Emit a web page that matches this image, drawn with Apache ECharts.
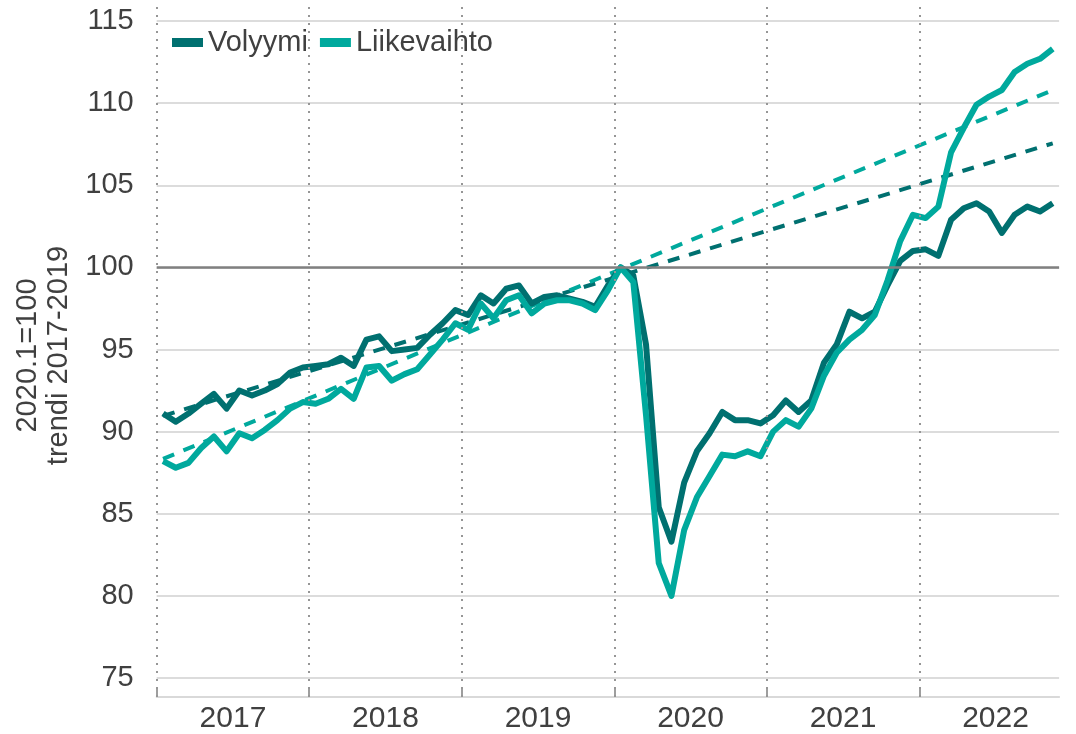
<!DOCTYPE html>
<html>
<head>
<meta charset="utf-8">
<script src="https://cdn.jsdelivr.net/npm/echarts@6/dist/echarts.min.js"></script>
<style>
html,body{margin:0;padding:0;background:#fff;}
#chart{width:1076px;height:734px;}
</style>
</head>
<body>
<div id="chart"></div>
<script>
// Years shown on the x axis (monthly data, Jan 2017 – Nov 2022)
var years = ['2017', '2018', '2019', '2020', '2021', '2022'];
var monthCount = 71;
var yearBoundaries = [0, 12, 24, 36, 48, 60];   // month index where each year starts
var yearLabelPos = [6, 18, 30, 42, 54, 66];      // mid-year positions for labels
var yTicks = [75, 80, 85, 90, 95, 100, 105, 110, 115];

// Volyymi, 2020.1 = 100
var volyymi = [
  91.1, 90.6, 91.1, 91.7, 92.3, 91.4, 92.5, 92.2, 92.5, 92.9, 93.6, 93.9,
  94.0, 94.1, 94.5, 94.0, 95.6, 95.8, 94.9, 95.0, 95.1, 95.9, 96.6, 97.4,
  97.1, 98.3, 97.8, 98.7, 98.9, 97.8, 98.2, 98.3, 98.1, 97.9, 97.6, 98.9,
  100.0, 99.5, 95.3, 85.4, 83.3, 86.9, 88.8, 89.9, 91.2, 90.7, 90.7, 90.5,
  91.0, 91.9, 91.2, 91.9, 94.2, 95.3, 97.3, 96.9, 97.3, 98.9, 100.4, 101.0,
  101.1, 100.7, 102.9, 103.6, 103.9, 103.4, 102.1, 103.2, 103.7, 103.4, 103.9
];
// Liikevaihto, 2020.1 = 100
var liikevaihto = [
  88.2, 87.8, 88.1, 89.0, 89.7, 88.8, 89.9, 89.6, 90.1, 90.7, 91.4, 91.8,
  91.7, 92.0, 92.6, 92.0, 93.9, 94.0, 93.1, 93.5, 93.8, 94.7, 95.6, 96.6,
  96.2, 97.8, 96.9, 98.0, 98.3, 97.2, 97.8, 98.0, 98.0, 97.8, 97.4, 98.6,
  100.0, 99.1, 91.0, 82.0, 80.0, 84.0, 86.0, 87.3, 88.6, 88.5, 88.8, 88.5,
  90.0, 90.7, 90.3, 91.4, 93.4, 94.8, 95.6, 96.2, 97.1, 99.2, 101.6, 103.2,
  103.0, 103.7, 107.0, 108.5, 109.9, 110.4, 110.8, 111.9, 112.4, 112.7, 113.3
];
// Trend 2017-2019, values at first and last month
var trendVolyymi = [90.96, 107.55];
var trendLiikevaihto = [88.34, 110.79];
var trendMonths = [0, 70];

var DARK = '#007070';
var TEAL = '#00a99d';
var TEXT = '#404040';
var FONT = '"Liberation Sans", Arial, sans-serif';

function toXY(arr) { return arr.map(function (v, i) { return [i + 0.5, v]; }); }
function trendXY(arr) { return arr.map(function (v, k) { return [trendMonths[k] + 0.5, v]; }); }

var chart = echarts.init(document.getElementById('chart'), null, { renderer: 'canvas' });

var option = {
  animation: false,
  backgroundColor: '#ffffff',
  textStyle: { fontFamily: FONT },
  legend: {
    data: ['Volyymi', 'Liikevaihto'],
    left: 167, top: 23,
    icon: 'rect', itemWidth: 31, itemHeight: 9, itemGap: 12,
    textStyle: { fontSize: 29, color: TEXT, fontFamily: FONT }
  },
  grid: [
    { left: 156.7, right: 16.9, top: 21, bottom: 56 },
    { left: 156.7, right: 16.9, top: 3, bottom: 37 }
  ],
  xAxis: [
    {
      type: 'value', gridIndex: 0, min: 0, max: monthCount,
      offset: 19,
      axisLine: { show: true, lineStyle: { color: '#d9d9d9', width: 2 } },
      axisTick: { show: true, inside: true, length: 10, customValues: yearBoundaries,
                  lineStyle: { color: '#7f7f7f', width: 1.5 } },
      axisLabel: { customValues: yearLabelPos, margin: 7, fontSize: 30, color: TEXT, fontFamily: FONT,
                   formatter: function (v) { var k = yearLabelPos.indexOf(Math.round(v)); return k >= 0 ? years[k] : ''; } },
      splitLine: { show: false }
    },
    { type: 'value', gridIndex: 1, min: 0, max: monthCount, show: false }
  ],
  yAxis: [
    {
      type: 'value', gridIndex: 0, min: yTicks[0], max: yTicks[yTicks.length - 1], interval: 5,
      axisLine: { show: false }, axisTick: { show: false },
      axisLabel: { fontSize: 29, color: TEXT, margin: 23, fontFamily: FONT },
      splitLine: { show: true, lineStyle: { color: '#d0d0d0', width: 1.5 } },
      name: '2020.1=100\ntrendi 2017-2019',
      nameLocation: 'middle', nameRotate: 90, nameGap: 74,
      nameTextStyle: { fontSize: 29, color: TEXT, lineHeight: 31, fontFamily: FONT, padding: [0, 12, 0, 0] }
    },
    { type: 'value', gridIndex: 1, min: 0, max: 1, show: false }
  ],
  series: [
    {
      name: 'year separators', type: 'line', xAxisIndex: 1, yAxisIndex: 1, data: [],
      silent: true, z: 1,
      markLine: {
        silent: true, symbol: 'none', label: { show: false },
        lineStyle: { color: '#969696', width: 2, type: [2, 6] },
        data: yearBoundaries.map(function (b) { return { xAxis: b }; })
      }
    },
    {
      name: 'Volyymi trendi', type: 'line', data: trendXY(trendVolyymi),
      symbol: 'none', z: 2,
      lineStyle: { color: DARK, width: 4, type: [12, 10] }
    },
    {
      name: 'Liikevaihto trendi', type: 'line', data: trendXY(trendLiikevaihto),
      symbol: 'none', z: 2,
      lineStyle: { color: TEAL, width: 4, type: [12, 10] }
    },
    {
      name: 'Volyymi', type: 'line', data: toXY(volyymi), symbol: 'none', z: 3,
      itemStyle: { color: DARK },
      lineStyle: { color: DARK, width: 6, join: 'round' },
      markLine: {
        silent: true, symbol: 'none', label: { show: false },
        lineStyle: { color: '#808080', width: 2.5, type: 'solid' },
        data: [{ yAxis: 100 }]
      }
    },
    {
      name: 'Liikevaihto', type: 'line', data: toXY(liikevaihto), symbol: 'none', z: 4,
      itemStyle: { color: TEAL },
      lineStyle: { color: TEAL, width: 6, join: 'round' }
    }
  ]
};
chart.setOption(option);
</script>
</body>
</html>
